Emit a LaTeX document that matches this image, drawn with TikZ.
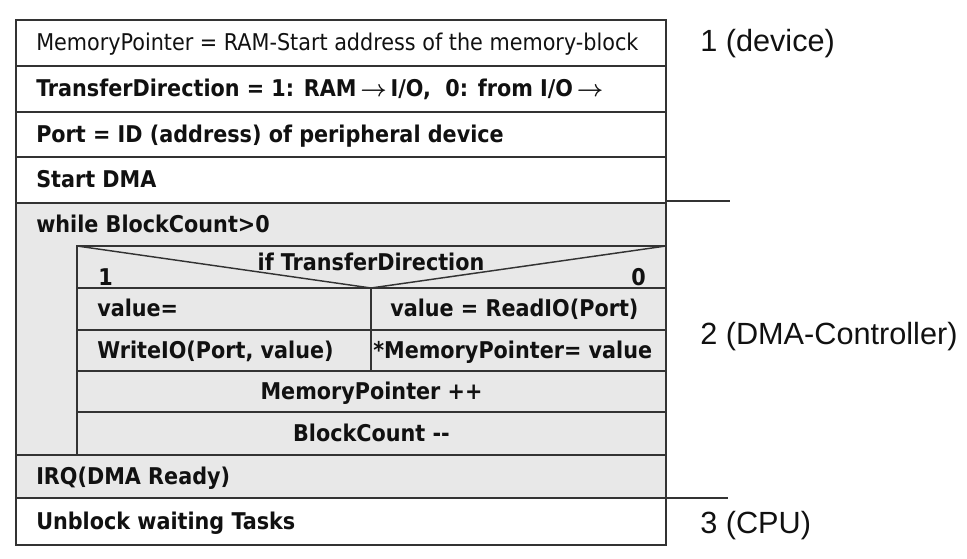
\documentclass[tikz,border=0pt]{standalone}
\usepackage{fontspec}
\setmainfont{DejaVu Sans Condensed}
\newfontfamily\labelfont{Liberation Sans}
\definecolor{rule}{HTML}{333333}
\definecolor{ink}{HTML}{111111}
\definecolor{loopfill}{HTML}{E8E8E8}
\newcommand{\rowfont}{\fontsize{17.3pt}{20pt}\selectfont}
\newcommand{\toward}{\,$\boldsymbol{\rightarrow}$\,}
\usepackage{amsmath,amssymb}
\tikzset{
  frame/.style={draw=rule, line width=1.1pt},
  rowtext/.style={anchor=base west, inner sep=0pt, text=ink, font=\rowfont\bfseries},
  midtext/.style={anchor=base, inner sep=0pt, text=ink, font=\rowfont\bfseries},
  sidelabel/.style={anchor=west, inner sep=0pt, text=ink, font=\labelfont\fontsize{23pt}{26pt}\selectfont}
}

\begin{document}
\begin{tikzpicture}[x=0.75pt, y=-0.75pt]
    \useasboundingbox (0,0) rectangle (967,558);
    % loop body is shaded
    \fill[loopfill] (16,203) rectangle (666,498);
    \draw[frame] (16,20) rectangle (666,545);
    \foreach \y in {66,112,157,203,455,498}
      \draw[frame] (16,\y) -- (666,\y);
    \draw[frame] (77,246) rectangle (666,455);
    \foreach \y in {288,330,371,412}
      \draw[frame] (77,\y) -- (666,\y);
    \draw[frame] (371,288) -- (371,371);
    \draw[frame] (77,246) -- (371,288) -- (666,246);

    \node[rowtext, font=\rowfont] (mptr) at (36,50.5) {MemoryPointer = RAM-Start address of the memory-block};
    \node[rowtext] (dir) at (36,96.5) {TransferDirection = 1: RAM\toward I/O,\ \ 0: from I/O\toward};
    \node[rowtext] (port) at (36,142) {Port = ID (address) of peripheral device};
    \node[rowtext] (start) at (36,187.5) {Start DMA};
    \node[rowtext] (loop) at (36,232) {while BlockCount>0};
    \node[midtext] (cond) at (371,270) {if TransferDirection};
    \node[rowtext] (one) at (98,285) {1};
    \node[midtext, anchor=base east] (zero) at (646,285) {0};
    \node[rowtext] (valw) at (97,316.5) {value=};
    \node[rowtext] (write) at (97,358) {WriteIO(Port, value)};
    \node[rowtext] (read) at (390,316.5) {value = ReadIO(Port)};
    \node[rowtext] (store) at (373,358) {*MemoryPointer= value};
    \node[midtext] (inc) at (371.5,399) {MemoryPointer ++};
    \node[midtext] (dec) at (371.5,441) {BlockCount -{}-};
    \node[rowtext] (irq) at (36,484) {IRQ(DMA Ready)};
    \node[rowtext] (unblock) at (36,529) {Unblock waiting Tasks};

    % layer borders
    \coordinate (cut1) at (730,201);
    \coordinate (cut2) at (728,498);
    \draw[rule, line width=1.1pt] (666,201) -- (cut1);
    \draw[rule, line width=1.1pt] (666,498) -- (cut2);
    \node[sidelabel] (dev) at (700,44) {1 (device)};
    \node[sidelabel] (dmac) at (700,337) {2 (DMA-Controller)};
    \node[sidelabel] (cpu) at (700,526) {3 (CPU)};
\end{tikzpicture}
\end{document}
